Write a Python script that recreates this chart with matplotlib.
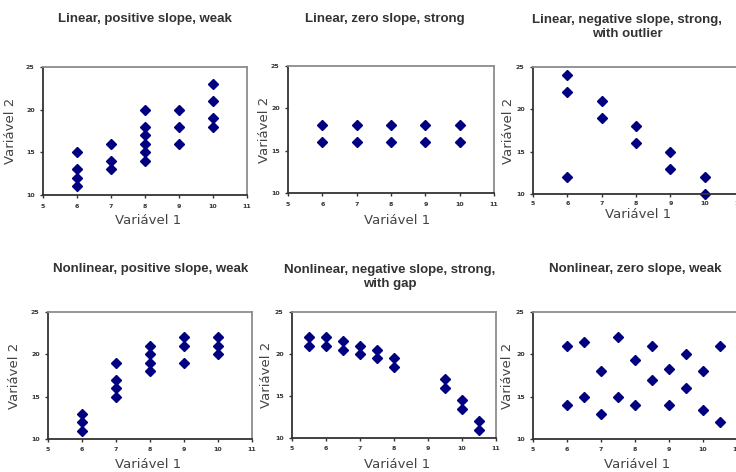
import matplotlib
matplotlib.use("Agg")
import matplotlib.pyplot as plt

W, H = 736, 472

titles = [
    "Linear, positive slope, weak",
    "Linear, zero slope, strong",
    "Linear, negative slope, strong,\nwith outlier",
    "Nonlinear, positive slope, weak",
    "Nonlinear, negative slope, strong,\nwith gap",
    "Nonlinear, zero slope, weak",
]

x1 = [6, 6, 6, 6, 7, 7, 7, 8, 8, 8, 8, 8, 8, 9, 9, 9, 10, 10, 10, 10]
y1 = [15, 13, 12, 11, 16, 14, 13, 20, 18, 17, 16, 15, 14, 20, 18, 16, 23, 21, 19, 18]

x2 = [6, 6, 7, 7, 8, 8, 9, 9, 10, 10]
y2 = [18, 16, 18, 16, 18, 16, 18, 16, 18, 16]

x3 = [6, 6, 6, 7, 7, 8, 8, 9, 9, 10, 10]
y3 = [24, 22, 12, 21, 19, 18, 16, 15, 13, 12, 10]

x4 = [6, 6, 6, 7, 7, 7, 7, 8, 8, 8, 8, 9, 9, 9, 10, 10, 10]
y4 = [13, 12, 11, 19, 17, 16, 15, 21, 20, 19, 18, 22, 21, 19, 22, 21, 20]

x5 = [5.5, 5.5, 6, 6, 6.5, 6.5, 7, 7, 7.5, 7.5, 8, 8, 9.5, 9.5, 10, 10, 10.5, 10.5]
y5 = [22, 21, 22, 21, 21.5, 20.5, 21, 20, 20.5, 19.5, 19.5, 18.5, 17, 16, 14.5, 13.5, 12, 11]

x6 = [6, 6, 6.5, 6.5, 7, 7, 7.5, 7.5, 8, 8, 8.5, 8.5, 9, 9, 9.5, 9.5, 10, 10, 10.5, 10.5]
y6 = [21, 14, 21.4, 15, 18, 13, 22, 15, 19.3, 14, 21, 17, 18.3, 14, 20, 16, 18, 13.4, 21, 12]

xs = [x1, x2, x3, x4, x5, x6]
ys = [y1, y2, y3, y4, y5, y6]

xlim = (5, 11)
ylim = (10, 25)
xticks = [5, 6, 7, 8, 9, 10, 11]
yticks = [10, 15, 20, 25]

# axes boxes in pixels: left, right, top, bottom
boxes = [
    (43, 247, 67, 195),
    (288, 494, 66, 193),
    (533, 739, 67, 194),
    (48, 252, 312, 439),
    (292, 496, 312, 438),
    (533, 737, 312, 439),
]
title_pos = [(145, 19), (385, 19), (627, 27), (151, 269), (390, 277), (635, 269)]
ylab_x = [11, 264, 509, 14, 267, 508]
xlab_pos = [(148, 220), (397, 221), (638, 214), (148, 465), (397, 465), (637, 465)]
xpads = [4.5, 4.5, 3.0, 4.0, 4.0, 4.0]

fig = plt.figure(figsize=(W / 100, H / 100), dpi=100)
fig.patch.set_facecolor("white")

for i in range(6):
    l, r, t, b = boxes[i]
    ax = fig.add_axes([l / W, 1 - b / H, (r - l) / W, (b - t) / H])
    ax.plot(xs[i], ys[i], linestyle="none", marker="D", ms=4.6,
            color="#000080", mec="#000080", clip_on=False)
    ax.set_xlim(*xlim)
    ax.set_ylim(*ylim)
    ax.set_xticks(xticks)
    ax.set_yticks(yticks)
    ax.tick_params(axis="both", labelsize=4.5, length=2.0, width=1.0,
                   color="#333333", labelcolor="#333333")
    ax.tick_params(axis="x", pad=xpads[i])
    ax.tick_params(axis="y", pad=4)
    for lab in ax.get_xticklabels() + ax.get_yticklabels():
        lab.set_fontweight("bold")
    for s in ["left", "bottom"]:
        ax.spines[s].set_color("#333333")
        ax.spines[s].set_linewidth(1.3)
    for s in ["top", "right"]:
        ax.spines[s].set_color("#8c8c8c")
        ax.spines[s].set_linewidth(1.3)
    tx, ty = title_pos[i]
    fig.text(tx / W, 1 - ty / H, titles[i], ha="center", va="center",
             fontsize=9.5, fontweight="bold", color="#333333",
             family="Liberation Sans", linespacing=1.2)
    fig.text(ylab_x[i] / W, 1 - ((t + b) / 2) / H, "Variável 2", rotation=90,
             ha="center", va="center", fontsize=9.5, color="#444444",
             family="DejaVu Sans")
    lx, ly = xlab_pos[i]
    fig.text(lx / W, 1 - ly / H, "Variável 1", ha="center", va="center",
             fontsize=9.5, color="#444444", family="DejaVu Sans")

fig.savefig("out.png", dpi=100, facecolor="white")
